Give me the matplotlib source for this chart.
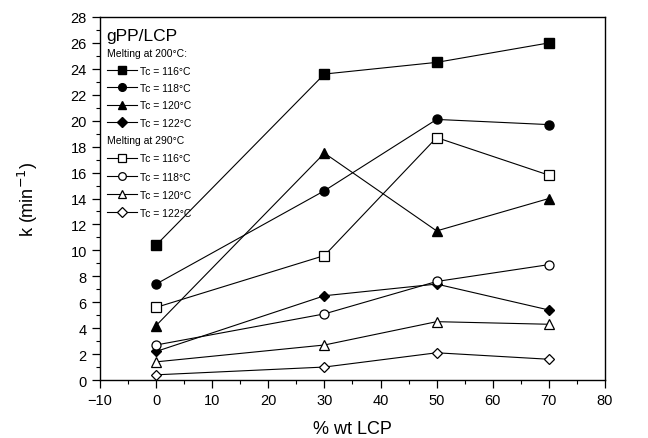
import matplotlib
matplotlib.use('Agg')
import matplotlib.pyplot as plt
from matplotlib.ticker import MultipleLocator

plt.rcParams['font.family'] = ['Liberation Sans', 'DejaVu Sans']

# % wt LCP
lcp = [0, 30, 50, 70]

# Melting at 200 C (filled markers)
k200_116 = [10.4, 23.6, 24.5, 26.0]
k200_118 = [7.4, 14.6, 20.1, 19.7]
k200_120 = [4.2, 17.5, 11.5, 14.0]
k200_122 = [2.2, 6.5, 7.4, 5.4]

# Melting at 290 C (open markers)
k290_116 = [5.6, 9.6, 18.7, 15.8]
k290_118 = [2.7, 5.1, 7.6, 8.9]
k290_120 = [1.4, 2.7, 4.5, 4.3]
k290_122 = [0.4, 1.0, 2.1, 1.6]

labels = ['Tc = 116°C', 'Tc = 118°C', 'Tc = 120°C', 'Tc = 122°C']
markers = ['s', 'o', '^', 'D']
sizes = [6.5, 6.5, 7, 5.5]

fig = plt.figure(figsize=(6.48, 4.39), dpi=100)
ax = fig.add_axes([0.1543, 0.1321, 0.7793, 0.8269])

h200 = []
for y, lab, m, s in zip([k200_116, k200_118, k200_120, k200_122], labels, markers, sizes):
    ln, = ax.plot(lcp, y, color='black', lw=0.8, marker=m, ms=s,
                  markerfacecolor='black', markeredgecolor='black', label=lab)
    h200.append(ln)

h290 = []
for y, lab, m, s in zip([k290_116, k290_118, k290_120, k290_122], labels, markers, sizes):
    ln, = ax.plot(lcp, y, color='black', lw=0.8, marker=m, ms=s,
                  markerfacecolor='white', markeredgecolor='black', mew=0.9, label=lab)
    h290.append(ln)

ax.set_xlim(-10, 80)
ax.set_ylim(0, 28)
ax.xaxis.set_major_locator(MultipleLocator(10))
ax.xaxis.set_minor_locator(MultipleLocator(5))
ax.yaxis.set_major_locator(MultipleLocator(2))
ax.yaxis.set_minor_locator(MultipleLocator(1))
ax.tick_params(which='major', direction='out', length=5.5, width=0.9, labelsize=10.5, pad=4)
ax.tick_params(which='minor', direction='out', length=3, width=0.8)
for sp in ax.spines.values():
    sp.set_linewidth(1.0)

ax.set_xlabel('% wt LCP', fontsize=13, labelpad=9)
ax.set_ylabel('k (min$^{-1}$)', fontsize=13, labelpad=22)

# legend headers
ax.text(0.012, 0.948, 'gPP/LCP', transform=ax.transAxes, fontsize=12.5, va='center', ha='left')
ax.text(0.014, 0.902, 'Melting at 200°C:', transform=ax.transAxes, fontsize=7.5, va='center', ha='left')
ax.text(0.014, 0.662, 'Melting at 290°C', transform=ax.transAxes, fontsize=7.5, va='center', ha='left')

leg_kw = dict(loc='upper left', frameon=False, fontsize=7.5, borderpad=0, borderaxespad=0,
              handlelength=2.9, handletextpad=0.3, markerscale=0.85)
leg1 = ax.legend(handles=h200, bbox_to_anchor=(0.0139, 0.866), labelspacing=0.7, **leg_kw)
ax.add_artist(leg1)
ax.legend(handles=h290, bbox_to_anchor=(0.0139, 0.624), labelspacing=0.78, **leg_kw)

fig.savefig('out.png', dpi=100)
